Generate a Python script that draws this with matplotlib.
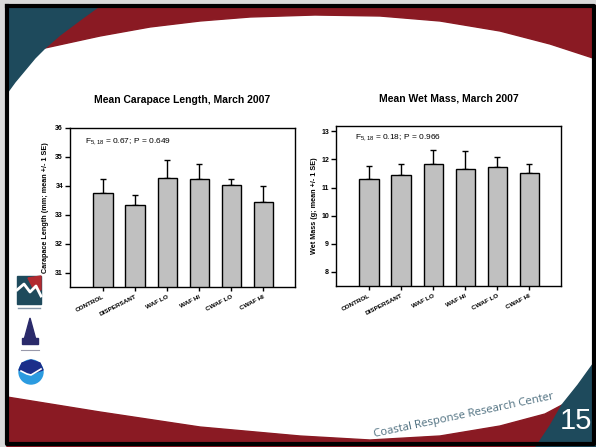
import numpy as np
import matplotlib
matplotlib.use('Agg')
import matplotlib.pyplot as plt
from matplotlib.patches import Polygon, Circle, Rectangle


plt.rcParams['font.family'] = ['Liberation Sans', 'DejaVu Sans']
plt.rcParams['mathtext.fontset'] = 'custom'
plt.rcParams['mathtext.rm'] = 'Liberation Sans'
plt.rcParams['mathtext.it'] = 'Liberation Sans:italic'
plt.rcParams['mathtext.bf'] = 'Liberation Sans:bold'

Treatments = ['CONTROL', 'DISPERSANT', 'WAF LO', 'WAF HI', 'CWAF LO', 'CWAF HI']

# carapace length, mm (mean and 1 SE)
CarapaceMean = [33.74, 33.33, 34.26, 34.22, 34.02, 33.45]
CarapaceSE = [0.48, 0.34, 0.62, 0.53, 0.22, 0.53]

# wet mass, g (mean and 1 SE)
MassMean = [11.31, 11.46, 11.83, 11.66, 11.72, 11.51]
MassSE = [0.45, 0.38, 0.50, 0.64, 0.38, 0.33]

W, H = 596, 447
RED = '#8a1a23'
TEAL = '#1e4a5c'


def px(x, y):
    return x / W, 1 - y / H


'''
slide background: frame, red arcs, teal corners, logos
'''
def DrawSlide(fig):
    bg = fig.add_axes([0, 0, 1, 1], zorder=0)
    bg.set_xlim(0, W)
    bg.set_ylim(H, 0)
    bg.axis('off')
    bg.add_patch(Rectangle((0, 0), W, H, color='#d9d9d9'))
    bg.add_patch(Rectangle((7, 5.5), 587, 438, facecolor='white', edgecolor='none'))

    # top red band with white arc below it
    arcX = [45, 100, 150, 200, 250, 315, 380, 440, 500, 550, 596]
    arcY = [48, 36, 27, 21, 17, 15, 16, 21, 31, 44, 59]
    top = [(7, 5.5), (596, 5.5)] + list(zip(arcX[::-1], arcY[::-1]))
    bg.add_patch(Polygon(top, closed=True, color=RED))
    corner = [(7, 5.5), (100, 5.5), (80, 20), (60, 35), (45, 48), (35, 58),
              (25, 70), (15, 82), (7, 93)]
    bg.add_patch(Polygon(corner, closed=True, color=TEAL))

    # bottom red band and teal corner
    botX = [7, 100, 200, 300, 370, 440, 500, 545, 562]
    botY = [397, 412, 427, 436, 440, 436, 426, 414, 405]
    bottom = list(zip(botX, botY)) + [(562, 447), (7, 447)]
    bg.add_patch(Polygon(bottom, closed=True, color=RED))
    tri = [(536, 447), (550, 426), (562, 405), (578, 385), (596, 360), (596, 447)]
    bg.add_patch(Polygon(tri, closed=True, color=TEAL))

    bg.text(464, 416, 'Coastal Response Research Center', fontsize=8.2,
            family=['Open Sans', 'DejaVu Sans'], color='#4f7080',
            rotation=12, ha='center', va='center')
    bg.text(576, 421, '15', fontsize=21, color='white', ha='center', va='center')

    # logos down the left side
    bg.add_patch(Rectangle((17, 276), 24, 28, color=TEAL))
    bg.add_patch(Polygon([(28, 278), (41, 276), (41, 290), (33, 288)], closed=True, color='#b22a30'))
    bg.plot([17, 24, 30, 36, 41], [290, 284, 292, 286, 296], color='white', lw=2)
    bg.plot([18, 40], [308, 308], color='#8899aa', lw=1)
    bg.add_patch(Polygon([(30, 318), (24, 340), (36, 340)], closed=True, color='#2a2a6a'))
    bg.add_patch(Rectangle((22, 338), 16, 6, color='#2a2a6a'))
    bg.plot([21, 39], [350, 350], color='#9999aa', lw=0.8)
    bg.add_patch(Circle((31, 372), 12, color='#2b9be0'))
    bg.add_patch(Polygon([(19, 370), (22, 363), (31, 360), (40, 363), (43, 370), (31, 374)],
                         closed=True, color='#1b2f8a'))
    bg.plot([21, 27, 31, 36, 41], [371, 374, 375, 372, 369], color='white', lw=1.2)
    bg.plot([7, 7, 594, 594, 7], [5.5, 444, 444, 5.5, 5.5], color='black', lw=3)


'''
bar chart with upper error bars only
'''
def PlotBars(fig, rect, means, se, ylim, yticks, ylabel, stats, statsPos, labelX):
    ax = fig.add_axes(rect, zorder=2)
    x = np.arange(len(Treatments))
    ax.bar(x, means, width=0.6, color='#c0c0c0', edgecolor='black', linewidth=1, zorder=2)
    ax.errorbar(x, means, yerr=[np.zeros(len(se)), se], fmt='none', ecolor='black',
                elinewidth=1, capsize=2.5, capthick=1, zorder=1)
    ax.set_xlim(-1.03, 5.99)
    ax.set_ylim(*ylim)
    ax.set_yticks(yticks)
    ax.set_yticklabels([str(t) for t in yticks], fontsize=5, fontweight='bold')
    ax.set_xticks(x)
    ax.set_xticklabels(Treatments, fontsize=4.6, fontweight='bold', rotation=27,
                       ha='right', va='top', rotation_mode='anchor')
    ax.tick_params(axis='y', length=3.5, width=1, pad=1.5)
    ax.tick_params(axis='x', length=3, width=1, pad=2)
    for s in ax.spines.values():
        s.set_linewidth(1)
    ax.set_ylabel(ylabel, fontsize=5.2, fontweight='bold')
    ax.yaxis.set_label_coords(labelX, 0.5)
    ax.text(statsPos[0], statsPos[1], stats, transform=ax.transAxes, fontsize=6,
            ha='left', va='center')
    return ax


if __name__ == "__main__":
    fig = plt.figure(figsize=(5.96, 4.47), dpi=100)
    DrawSlide(fig)

    PlotBars(fig, [70 / W, 1 - 287 / H, 225 / W, 159.3 / H], CarapaceMean, CarapaceSE,
             (30.5, 36), [31, 32, 33, 34, 35, 36], 'Carapace Length (mm; mean +/- 1 SE)',
             r'F$_{5,18}$ = 0.67; P = 0.649', (0.067, 0.912), -0.092)
    PlotBars(fig, [336 / W, 1 - 286 / H, 225 / W, 160.3 / H], MassMean, MassSE,
             (7.5, 13.2), [8, 9, 10, 11, 12, 13], 'Wet Mass (g; mean +/- 1 SE)',
             r'F$_{5,18}$ = 0.18; P = 0.966', (0.084, 0.928), -0.079)

    fig.text(*px(182.5, 100), 'Mean Carapace Length, March 2007', fontsize=7.5,
             fontweight='bold', ha='center', va='center')
    fig.text(*px(448.5, 98.3), 'Mean Wet Mass, March 2007', fontsize=7.5,
             fontweight='bold', ha='center', va='center')

    fig.savefig('out.png', dpi=100)
